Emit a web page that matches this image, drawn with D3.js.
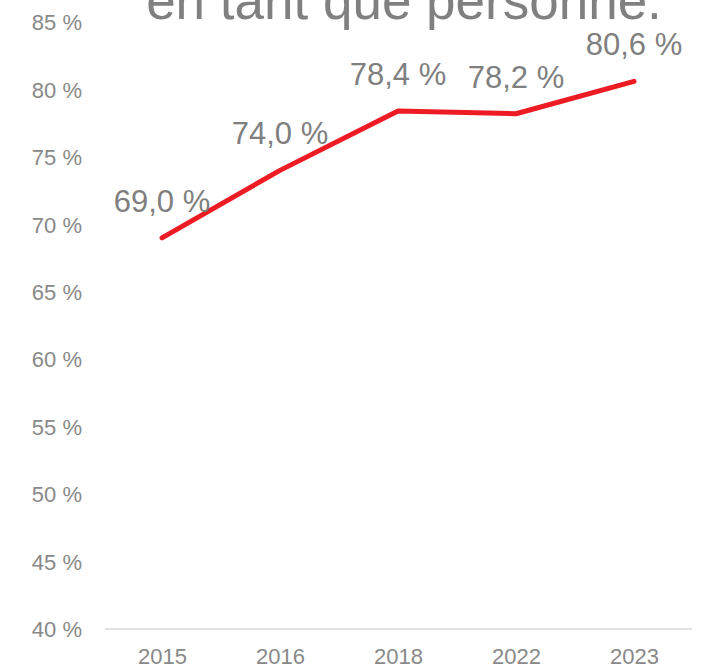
<!DOCTYPE html>
<html lang="fr">
<head>
    <meta charset="UTF-8">
    <title>Chart</title>
    <script src="https://cdn.jsdelivr.net/npm/d3@7"></script>
    <style>
        body { margin: 0; background: #fff; }
        text { font-family: "Liberation Sans", Arial, sans-serif; }
        .tick text { fill: #898989; font-size: 22px; }
    </style>
</head>
<body>
    <div id="chart"></div>
    <script>
        const years = ['2015', '2016', '2018', '2022', '2023'];
        const values = [69.0, 74.0, 78.4, 78.2, 80.6];
        const yTicks = [40, 45, 50, 55, 60, 65, 70, 75, 80, 85];
        const titleLine = 'en tant que personne.';

        const W = 713, H = 669;
        const svg = d3.select('#chart').append('svg')
            .attr('width', W)
            .attr('height', H);

        const x = d3.scalePoint()
            .domain(years)
            .range([103, 693])
            .padding(0.5);

        const y = d3.scaleLinear()
            .domain([40, 85])
            .range([629, 22]);

        const fmtTick = d => d + ' %';
        const fmtVal = d => d.toFixed(1).replace('.', ',') + ' %';

        // title (only the last line is in view)
        svg.append('text')
            .attr('x', 404)
            .attr('y', 19)
            .attr('text-anchor', 'middle')
            .attr('fill', '#808080')
            .style('font-size', '53px')
            .text(titleLine);

        // y axis labels
        const yAxis = svg.append('g')
            .attr('transform', 'translate(82,0)')
            .call(d3.axisLeft(y).tickValues(yTicks).tickSize(0).tickPadding(0).tickFormat(fmtTick));
        yAxis.select('.domain').remove();
        yAxis.selectAll('text').attr('dy', '0.35em');

        // baseline
        svg.append('line')
            .attr('x1', 105).attr('x2', 692)
            .attr('y1', y(40)).attr('y2', y(40))
            .attr('stroke', '#d9d9d9')
            .attr('stroke-width', 1.5);

        // x axis labels
        const xAxis = svg.append('g')
            .attr('transform', `translate(0,${y(40)})`)
            .call(d3.axisBottom(x).tickSize(0).tickPadding(19));
        xAxis.select('.domain').remove();

        const pts = years.map((yr, i) => ({ yr, v: values[i] }));

        svg.append('path')
            .datum(pts)
            .attr('fill', 'none')
            .attr('stroke', '#ed1c24')
            .attr('stroke-width', 5)
            .attr('stroke-linecap', 'round')
            .attr('stroke-linejoin', 'round')
            .attr('d', d3.line().x(d => x(d.yr)).y(d => y(d.v)));

        svg.selectAll('.lbl')
            .data(pts)
            .enter()
            .append('text')
            .attr('class', 'lbl')
            .attr('x', d => x(d.yr))
            .attr('y', d => y(d.v) - 37)
            .attr('dy', '0.35em')
            .attr('text-anchor', 'middle')
            .attr('fill', '#7f7f7f')
            .style('font-size', '31px')
            .text(d => fmtVal(d.v));
    </script>
</body>
</html>
